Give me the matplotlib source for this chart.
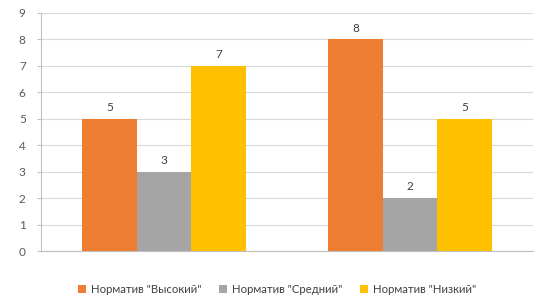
import matplotlib
matplotlib.use('Agg')
import matplotlib.pyplot as plt
import numpy as np

plt.rcParams['font.family'] = ['Lato', 'DejaVu Sans']

groups = ['', '']
series = ['Норматив "Высокий"', 'Норматив "Средний"', 'Норматив "Низкий"']
values = [[5, 8], [3, 2], [7, 5]]
colors = ['#ED7D31', '#A5A5A5', '#FFC000']

fig = plt.figure(figsize=(5.47, 3.01), dpi=100)
ax = fig.add_axes([0.075, 0.166, 0.8994, 0.791])

x = np.arange(len(groups))
w = 0.222
for i, (name, vals) in enumerate(zip(series, values)):
    pos = x + (i - 1) * w
    bars = ax.bar(pos, vals, w, color=colors[i], label=name, zorder=3)
    for p, v in zip(pos, vals):
        ax.text(p, v + 0.22, str(v), ha='center', va='bottom', fontsize=8.5, color='#404040')

ax.set_xlim(-0.5, 1.5)
ax.set_ylim(0, 9)
ax.set_yticks(range(0, 10))
ax.set_xticks([])
ax.yaxis.grid(True, color='#D9D9D9', linewidth=0.8, zorder=0)
for s in ['top', 'right']:
    ax.spines[s].set_visible(False)
ax.spines['left'].set_color('#BFBFBF')
ax.spines['bottom'].set_color('#BFBFBF')
ax.tick_params(axis='y', colors='#BFBFBF', labelcolor='#595959', labelsize=8.5, length=3, pad=8)

ax.legend(loc='center', bbox_to_anchor=(0.48, -0.16), ncol=3, frameon=False,
          fontsize=8.2, handlelength=0.7, handleheight=0.7, handletextpad=0.4,
          columnspacing=1.6, labelcolor='#404040')

fig.savefig('out.png', dpi=100)
